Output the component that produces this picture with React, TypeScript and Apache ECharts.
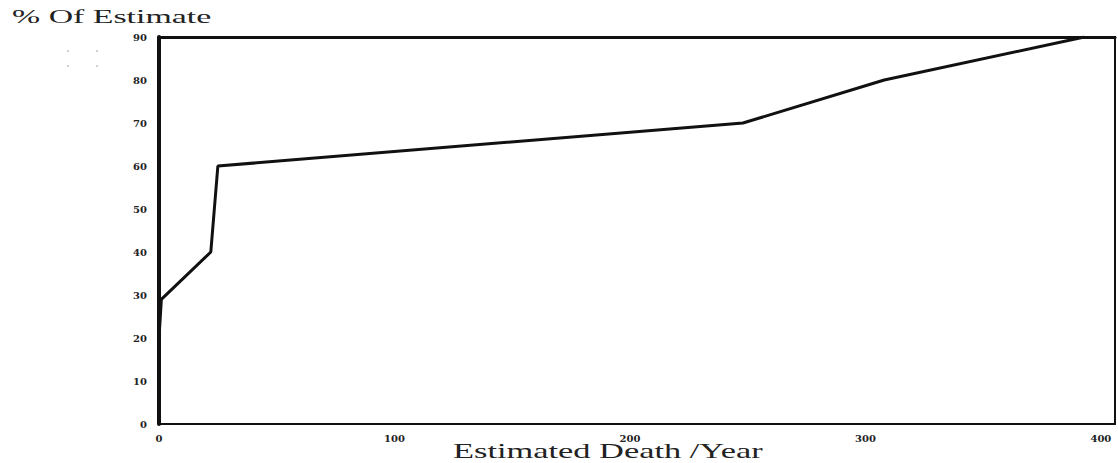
import React, { useEffect, useRef } from "react";
import * as echarts from "echarts";

const deathsPerYear = [0, 0, 1, 22, 25, 248, 308, 393];
const percentOfEstimate = [0, 20, 29, 40, 60, 70, 80, 90];
const xTicks = [0, 100, 200, 300, 400];
const yTitle = "% Of Estimate";
const xTitle = "Estimated Death /Year";

export default function App() {
  const ref = useRef<HTMLDivElement>(null);
  useEffect(() => {
    if (!ref.current) return;
    const chart = echarts.init(ref.current, null, { renderer: "svg" });
    const serif = "'Liberation Serif', 'Times New Roman', serif";
    const tickFont = "'DejaVu Serif', serif";
    chart.setOption({
      animation: false,
      backgroundColor: "#ffffff",
      grid: {
        left: 159,
        right: 3,
        top: 37,
        bottom: 39,
        show: true,
        borderColor: "#111",
        borderWidth: 2,
        backgroundColor: "transparent",
      },
      xAxis: [
        {
          type: "value",
          min: 0,
          max: 406,
          interval: 100,
          axisLine: { show: true, lineStyle: { color: "#111", width: 2 } },
          axisTick: { show: false },
          splitLine: { show: false },
          axisLabel: {
            margin: 9,
            color: "#222",
            fontFamily: tickFont,
            fontWeight: "bold",
            fontSize: 10,
            formatter: (v: number) => (xTicks.includes(v) ? String(v) : ""),
          },
        },
        {
          type: "value",
          position: "top",
          min: 0,
          max: 406,
          axisLine: { show: true, onZero: false, lineStyle: { color: "#111", width: 3 } },
          axisTick: { show: false },
          splitLine: { show: false },
          axisLabel: { show: false },
        },
      ],
      yAxis: {
        type: "value",
        min: 0,
        max: 90,
        interval: 10,
        axisLine: { show: true, lineStyle: { color: "#111", width: 4 } },
        axisTick: { show: false },
        splitLine: { show: false },
        axisLabel: {
          margin: 12,
          color: "#222",
          fontFamily: tickFont,
          fontWeight: "bold",
          fontSize: 10,
        },
      },
      series: [
        {
          type: "line",
          data: deathsPerYear.map((x, i) => [x, percentOfEstimate[i]]),
          symbol: "none",
          lineStyle: { color: "#111", width: 3 },
        },
      ],
      graphic: [
        {
          type: "text",
          x: 12,
          y: 8,
          scaleX: 1.88,
          style: { text: yTitle, font: `18px ${serif}`, fill: "#222", textVerticalAlign: "top" },
        },
        {
          type: "text",
          x: 453,
          y: 441,
          scaleX: 1.72,
          style: { text: xTitle, font: `20px ${serif}`, fill: "#222", textVerticalAlign: "top" },
        },
        { type: "circle", shape: { cx: 68, cy: 51, r: 0.9 }, style: { fill: "#bbb" } },
        { type: "circle", shape: { cx: 97, cy: 51, r: 0.9 }, style: { fill: "#bbb" } },
        { type: "circle", shape: { cx: 68, cy: 66, r: 0.9 }, style: { fill: "#bbb" } },
        { type: "circle", shape: { cx: 97, cy: 66, r: 0.9 }, style: { fill: "#bbb" } },
      ],
    });
    return () => chart.dispose();
  }, []);
  return <div ref={ref} style={{ width: 1118, height: 463, position: "absolute", left: 0, top: 0 }} />;
}
